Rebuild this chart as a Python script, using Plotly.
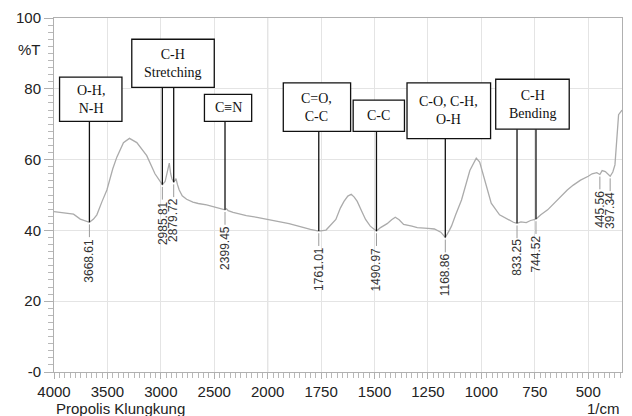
import numpy as np
import plotly.graph_objects as go

# ---- data (wavenumber in 1/cm, transmittance %T) ----
wavenumber = [4000, 3900, 3817, 3754, 3700, 3668.61, 3630, 3599, 3550, 3505, 3450, 3412, 3350, 3294,
              3225, 3132, 3055, 2985.81, 2960, 2945, 2932, 2921, 2908, 2896, 2879.72, 2868, 2858, 2845,
              2828, 2800, 2759, 2700, 2650, 2572, 2500, 2430, 2399.45, 2385, 2370, 2324, 2200, 2100,
              2000, 1900, 1800, 1761.01, 1727, 1700, 1681, 1660, 1643, 1625, 1609, 1595, 1581, 1560,
              1542, 1520, 1490.97, 1472, 1441, 1420, 1403, 1385, 1364, 1325, 1300, 1250, 1220, 1190,
              1168.86, 1150, 1140, 1120, 1093, 1054, 1024, 1008, 985, 954, 915, 877, 850, 833.25, 815,
              790, 770, 744.52, 722, 690, 660, 630, 598, 570, 536, 500, 482, 460, 445.56, 435, 420,
              397.34, 385, 375, 368, 358, 342]
transmittance = [45.3, 44.9, 44.6, 43.2, 42.6, 42.3, 43.2, 44.4, 48.2, 51.4, 57.4, 60.7, 64.8, 66.0,
                 64.8, 61.1, 56.0, 52.9, 53.8, 55.5, 57.5, 59.0, 56.0, 54.6, 53.6, 54.4, 54.6, 53.0,
                 51.4, 49.8, 48.8, 48.0, 47.6, 47.2, 46.6, 46.1, 45.8, 46.1, 45.6, 45.1, 44.2, 43.7,
                 43.1, 41.9, 40.3, 39.8, 40.1, 41.7, 43.1, 46.3, 48.2, 49.7, 50.2, 49.4, 48.2, 45.4,
                 43.1, 41.2, 39.8, 40.8, 41.9, 43.0, 43.7, 43.0, 41.7, 41.2, 40.8, 40.6, 40.4, 39.5,
                 38.0, 40.0, 41.2, 44.5, 48.6, 56.9, 60.4, 59.3, 54.2, 47.7, 44.4, 43.1, 42.3, 42.0, 42.4,
                 42.2, 42.8, 43.2, 44.4, 45.8, 47.7, 49.5, 51.4, 52.8, 54.2, 55.3, 56.0, 56.3, 55.8, 56.9, 56.6,
                 55.3, 56.5, 58.5, 65.3, 72.7, 74.0]

peak_labels = [3668.61, 2985.81, 2879.72, 2399.45, 1761.01, 1490.97, 1168.86, 833.25, 744.52, 445.56, 397.34]

group_texts = ["O-H,<br>N-H", "C-H<br>Stretching", "C\u2261N", "C=O,<br>C-C", "C-C",
               "C-O, C-H,<br>O-H", "C-H<br>Bending"]
group_peaks = [[3668.61], [2985.81, 2879.72], [2399.45], [1761.01], [1490.97], [1168.86], [833.25, 744.52]]

x_tick_values = [4000, 3500, 3000, 2500, 2000, 1750, 1500, 1250, 1000, 750, 500]
y_tick_values = [0, 20, 40, 60, 80, 100]
y_tick_labels = ["-0", "20", "40", "60", "80", "100"]

# ---- layout constants (box rectangles in axis units: x' range, %T range) ----
box_rects = [(26, 318, 70.8, 83.3), (364, 750, 80.4, 94.0), (704, 925, 70.8, 78.4),
             (1073, 1388, 68.0, 81.7), (1400, 1640, 68.0, 76.8), (1652, 2043, 65.9, 81.7),
             (2067, 2411, 68.6, 82.7)]


def tx(w):
    """Shimadzu-style split axis: 4000-2000 compressed by 2x."""
    w = np.asarray(w, dtype=float)
    return np.where(w >= 2000, (4000 - w) / 2.0, 1000 + (2000 - w))


xw = np.array(wavenumber)
yt = np.array(transmittance)
xp = tx(xw)

def t_at(w):
    return float(np.interp(tx(w), xp, yt))

fig = go.Figure()
fig.add_trace(go.Scatter(x=xp, y=yt, mode="lines",
                         line=dict(color="#ababab", width=1.3), hoverinfo="skip"))

shapes = []
annotations = []

# darker grid line at 2000
shapes.append(dict(type="line", xref="x", yref="y", x0=float(tx(2000)), x1=float(tx(2000)),
                   y0=0, y1=100, line=dict(color="#bdbdbd", width=1), layer="below"))

# peak labels with short gray connector
for w in peak_labels:
    t = t_at(w)
    x = float(tx(w))
    shapes.append(dict(type="line", xref="x", yref="y", x0=x, x1=x, y0=t - 0.6, y1=t - 4.2,
                       line=dict(color="#9a9a9a", width=1)))
    annotations.append(dict(x=x, y=t, xref="x", yref="y", text=f"{w:.2f}", showarrow=False,
                            textangle=-90, xanchor="center", yanchor="top", yshift=-15,
                            font=dict(family="Liberation Sans, Arial", size=12, color="#333333"),
                            borderpad=0))

# group boxes with black leader lines
for (x0, x1, y0, y1), text, peaks in zip(box_rects, group_texts, group_peaks):
    for w in peaks:
        x = float(tx(w))
        shapes.append(dict(type="line", xref="x", yref="y", x0=x, x1=x, y0=y0, y1=t_at(w),
                           line=dict(color="#111111", width=1.3)))
    shapes.append(dict(type="rect", xref="x", yref="y", x0=x0, x1=x1, y0=y0, y1=y1,
                       fillcolor="white", line=dict(color="#111111", width=1.3), layer="above"))
    annotations.append(dict(x=(x0 + x1) / 2, y=(y0 + y1) / 2, xref="x", yref="y", text=text,
                            showarrow=False, xanchor="center", yanchor="middle",
                            font=dict(family="Liberation Serif, Times New Roman", size=14, color="#111111")))

# axis titles / side texts
annotations.append(dict(x=-0.02, y=91.2, xref="paper", yref="y", text="%T", showarrow=False,
                        xanchor="right", yanchor="middle",
                        font=dict(family="Liberation Sans, Arial", size=15, color="#222222")))
annotations.append(dict(x=0.0, y=-0.073, xref="paper", yref="paper", text="Propolis Klungkung",
                        showarrow=False, xanchor="left", yanchor="top",
                        font=dict(family="Liberation Sans, Arial", size=15, color="#222222")))
annotations.append(dict(x=1.0, y=-0.073, xref="paper", yref="paper", text="1/cm",
                        showarrow=False, xanchor="right", yanchor="top",
                        font=dict(family="Liberation Sans, Arial", size=15, color="#222222")))

fig.update_layout(
    width=632, height=416,
    margin=dict(l=54, r=9, t=12, b=44),
    paper_bgcolor="white", plot_bgcolor="white",
    showlegend=False,
    shapes=shapes, annotations=annotations,
    font=dict(family="Liberation Sans, Arial", size=15, color="#222222"),
)
fig.update_xaxes(range=[0, 2658], tickvals=tx(x_tick_values).tolist(),
                 ticktext=[str(v) for v in x_tick_values],
                 showline=True, linecolor="#b0b0b0", linewidth=1, mirror=True,
                 ticks="outside", ticklen=6, tickcolor="#b0b0b0",
                 showgrid=True, gridcolor="#e4e4e4", gridwidth=1, zeroline=False,
                 minor=dict(dtick=25, tick0=0, ticks="outside", ticklen=5, tickcolor="#b8b8b8", showgrid=False),
                 tickfont=dict(size=15, color="#222222"))
fig.update_yaxes(range=[0, 100], tickvals=y_tick_values, ticktext=y_tick_labels,
                 showline=True, linecolor="#b0b0b0", linewidth=1, mirror=True,
                 ticks="outside", ticklen=9, tickcolor="#b0b0b0",
                 showgrid=True, gridcolor="#e4e4e4", gridwidth=1, zeroline=False,
                 minor=dict(dtick=2, tick0=0, ticks="outside", ticklen=5, tickcolor="#b8b8b8", showgrid=False),
                 tickfont=dict(size=15, color="#222222"))

fig.write_html("out.html", config={"displayModeBar": False},
               post_script="document.body.style.margin='0';document.body.style.overflow='hidden';")
